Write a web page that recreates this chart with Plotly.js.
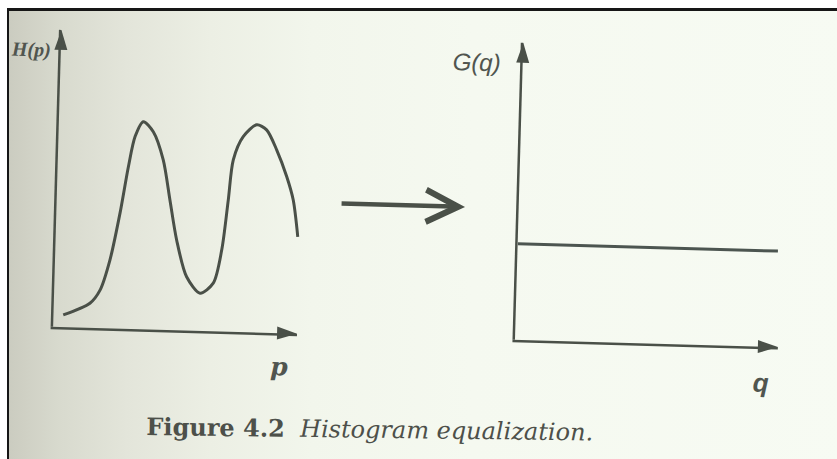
<!DOCTYPE html>
<html>
<head>
<meta charset="utf-8">
<script src="https://cdn.plot.ly/plotly-3.0.1.min.js"></script>
<style>
  html, body { margin: 0; padding: 0; background: #ffffff; overflow: hidden; }
  body { width: 837px; height: 459px; position: relative; }
  /* printed page: dark rule on top and left, paper tone fading from grey to pale green */
  #frame {
    position: absolute; left: 7px; top: 8px; width: 840px; height: 460px;
    border-top: 3px solid #161616; border-left: 2px solid #161616;
    overflow: hidden;
    background: linear-gradient(to right, #cbccc0 0%, #d8dace 6%, #e3e5da 14%, #ecefe4 24%, #f2f6ec 36%, #f5f9f0 55%, #f7fbf3 100%);
  }
  /* the page sits slightly tilted */
  #chart {
    position: absolute; left: -9px; top: -11px; width: 837px; height: 459px;
    transform: rotate(1.6deg); transform-origin: 50% 50%;
  }
  /* smooth edges for the tilted axis lines */
  #chart path { shape-rendering: geometricPrecision !important; }
</style>
</head>
<body>
<div id="frame"><div id="chart"></div></div>
<script>
// Input histogram H(p): a two-peaked distribution
const pValues = [0.40, 1.48, 1.88, 2.25, 2.61, 2.90, 3.14, 3.46, 3.88, 4.32, 4.64, 4.96, 5.41,
                 5.98, 6.51, 6.82, 7.03, 7.19, 7.57, 8.11, 8.52, 8.96, 9.40, 9.69, 9.92];
const hValues = [0.41, 0.83, 1.28, 2.30, 3.89, 5.46, 6.48, 6.99, 6.66, 5.72, 4.38, 3.04, 1.81,
                 1.27, 1.62, 2.75, 4.43, 5.79, 6.58, 6.99, 6.83, 6.16, 5.27, 4.50, 3.26];

// Equalized histogram G(q): flat
const qValues = [0, 9.9];
const gValues = [3.23, 3.23];

// Both plots share the same axis extent
const axisEnd = 10;

const ink = '#4a5048';
const textInk = '#50554f';

const traces = [
  {
    x: pValues, y: hValues, xaxis: 'x', yaxis: 'y',
    mode: 'lines', hoverinfo: 'skip',
    line: { color: ink, width: 3, shape: 'spline', smoothing: 0.8 }
  },
  {
    x: qValues, y: gValues, xaxis: 'x2', yaxis: 'y2',
    mode: 'lines', hoverinfo: 'skip',
    line: { color: '#4c5550', width: 3 }
  },
  // arrow tips on the ends of the axes
  {
    x: [axisEnd, 0], y: [0, axisEnd], xaxis: 'x', yaxis: 'y',
    mode: 'markers', hoverinfo: 'skip', cliponaxis: false,
    marker: { symbol: 'arrow', angle: [90, 0], size: 21, color: ink }
  },
  {
    x: [axisEnd, 0], y: [0, axisEnd], xaxis: 'x2', yaxis: 'y2',
    mode: 'markers', hoverinfo: 'skip', cliponaxis: false,
    marker: { symbol: 'arrow', angle: [90, 0], size: 21, color: ink }
  }
];

const axisStyle = {
  range: [0, axisEnd], showgrid: false, zeroline: false, showticklabels: false,
  ticks: '', showline: true, linecolor: ink, linewidth: 2.5, fixedrange: true
};

const layout = {
  width: 837, height: 459,
  margin: { l: 0, r: 0, t: 0, b: 0 },
  paper_bgcolor: 'rgba(0,0,0,0)', plot_bgcolor: 'rgba(0,0,0,0)',
  showlegend: false,
  xaxis:  Object.assign({}, axisStyle, { domain: [0.0669, 0.3584], anchor: 'y' }),
  yaxis:  Object.assign({}, axisStyle, { domain: [0.2658, 0.9129], anchor: 'x' }),
  xaxis2: Object.assign({}, axisStyle, { domain: [0.6189, 0.9331], anchor: 'y2' }),
  yaxis2: Object.assign({}, axisStyle, { domain: [0.2658, 0.9129], anchor: 'x2' }),
  annotations: [
    // transformation arrow between the two plots
    {
      xref: 'paper', yref: 'paper', x: 0.5548, y: 0.5519,
      ax: -125, ay: 0, text: '', showarrow: true,
      arrowhead: 5, arrowwidth: 4.5, arrowsize: 1.4, arrowcolor: ink
    },
    {
      xref: 'paper', yref: 'paper', x: 0.031, y: 0.869, xanchor: 'center', yanchor: 'middle',
      text: 'H(p)', showarrow: false,
      font: { family: 'Liberation Serif', size: 20, style: 'italic', weight: 'bold', color: textInk }
    },
    {
      xref: 'paper', yref: 'paper', x: 0.3381, y: 0.192, xanchor: 'center', yanchor: 'middle',
      text: 'p', showarrow: false,
      font: { family: 'DejaVu Serif', size: 25, style: 'italic', weight: 'bold', color: textInk }
    },
    {
      xref: 'paper', yref: 'paper', x: 0.5635, y: 0.868, xanchor: 'center', yanchor: 'middle',
      text: 'G(q)', showarrow: false,
      font: { family: 'Liberation Sans', size: 24, style: 'italic', color: textInk }
    },
    {
      xref: 'paper', yref: 'paper', x: 0.914, y: 0.187, xanchor: 'center', yanchor: 'middle',
      text: 'q', showarrow: false,
      font: { family: 'Liberation Sans', size: 26, style: 'italic', weight: 'bold', color: textInk }
    },
    {
      xref: 'paper', yref: 'paper', x: 0.449, y: 0.0625, xanchor: 'center', yanchor: 'middle',
      textangle: -0.9,
      text: '<b>Figure 4.2</b>&nbsp;&nbsp;<i>Histogram equalization.</i>', showarrow: false,
      font: { family: 'DejaVu Serif', size: 24, color: '#4d504a' }
    }
  ]
};

Plotly.newPlot('chart', traces, layout, { staticPlot: true, displayModeBar: false });
</script>
</body>
</html>
